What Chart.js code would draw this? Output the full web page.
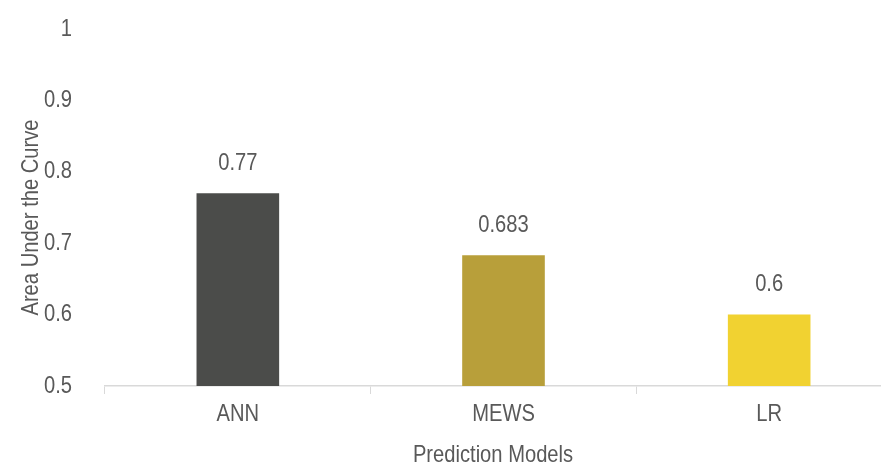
<!DOCTYPE html>
<html>
<head>
<meta charset="utf-8">
<script src="https://cdn.jsdelivr.net/npm/chart.js@4/dist/chart.umd.min.js"></script>
<style>
  html, body { margin: 0; padding: 0; background: #ffffff; overflow: hidden; }
  #wrap { position: relative; width: 902px; height: 464px; }
</style>
</head>
<body>
<div id="wrap"><canvas id="c"></canvas></div>
<script>
const categories = ["ANN", "MEWS", "LR"];
const aucValues = [0.77, 0.683, 0.6];
const valueLabels = ["0.77", "0.683", "0.6"];
const barColors = ["#4b4c4a", "#b89f3a", "#f1d231"];
const yTicks = [0.5, 0.6, 0.7, 0.8, 0.9, 1];
const xTitle = "Prediction Models";
const yTitle = "Area Under the Curve";

const FONT = "'Liberation Sans Narrow', 'Arial Narrow', 'Liberation Sans', sans-serif";
const TEXT = "#595959";
const CONDENSE = 0.84;

// Narrow-font look: condense every glyph run horizontally around its anchor.
const canvas = document.getElementById("c");
const ctx0 = canvas.getContext("2d");
const origFill = ctx0.fillText.bind(ctx0);
ctx0.fillText = function (text, x, y, maxWidth) {
  this.save();
  this.translate(x, y);
  this.scale(CONDENSE, 1);
  if (maxWidth !== undefined) origFill(text, 0, 0, maxWidth / CONDENSE);
  else origFill(text, 0, 0);
  this.restore();
};

const textPlugin = {
  id: "extraText",
  afterDatasetsDraw(chart) {
    const ctx = chart.ctx;
    const meta = chart.getDatasetMeta(0);
    const area = chart.chartArea;
    ctx.save();
    ctx.font = "24px " + FONT;
    ctx.fillStyle = TEXT;
    ctx.textAlign = "center";
    ctx.textBaseline = "middle";
    meta.data.forEach((bar, i) => {
      ctx.fillText(valueLabels[i], bar.x, bar.y - 30);
    });
    // axis titles
    ctx.fillText(xTitle, area.left + 388, 455);
    ctx.translate(31, (area.top + area.bottom) / 2 + 10);
    ctx.rotate(-Math.PI / 2);
    ctx.fillText(yTitle, 0, 0);
    ctx.restore();
  }
};

new Chart(canvas, {
  type: "bar",
  data: {
    labels: categories,
    datasets: [{
      data: aucValues,
      backgroundColor: barColors,
      borderWidth: 0,
      categoryPercentage: 1,
      barPercentage: 0.311
    }]
  },
  options: {
    responsive: true,
    maintainAspectRatio: false,
    animation: false,
    layout: { padding: { left: 12, right: 0, top: 29, bottom: 0 } },
    plugins: { legend: { display: false }, tooltip: { enabled: false } },
    scales: {
      x: {
        afterFit(scale) { scale.height = 78; },
        grid: { display: true, drawOnChartArea: false, drawTicks: true, tickLength: 8, color: "#d9d9d9", offset: true },
        border: { display: true, color: "#d9d9d9", width: 1.5 },
        ticks: { color: TEXT, font: { family: FONT, size: 24 }, padding: 6 }
      },
      y: {
        min: 0.5,
        max: 1,
        afterBuildTicks(scale) { scale.ticks = yTicks.map(v => ({ value: v })); },
        afterFit(scale) { scale.width = 93; scale.paddingTop = 0; scale.paddingBottom = 0; },
        grid: { display: false },
        border: { display: false },
        ticks: { color: TEXT, font: { family: FONT, size: 24 }, padding: 25,
                 callback: (v) => String(v) }
      }
    }
  },
  plugins: [textPlugin]
});
</script>
</body>
</html>
